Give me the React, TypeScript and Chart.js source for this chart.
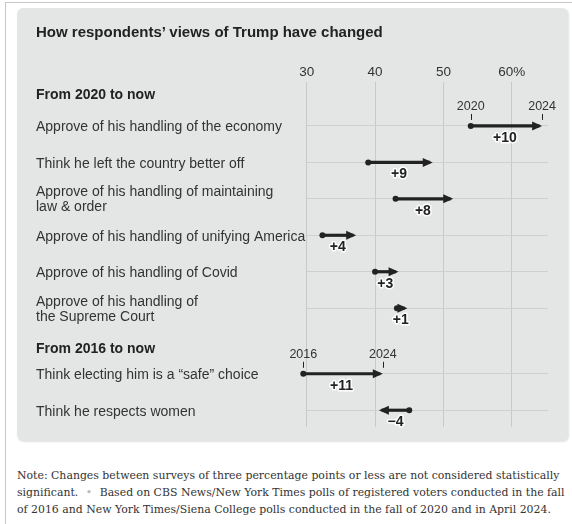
import React, { useEffect, useRef } from "react";
import { Chart, registerables } from "chart.js";

Chart.register(...registerables);

const titleText = "How respondents\u2019 views of Trump have changed";
const sectionHeadings = ["From 2020 to now", "From 2016 to now"];
const rowLabels: string[][] = [
  ["Approve of his handling of the economy"],
  ["Think he left the country better off"],
  ["Approve of his handling of maintaining", "law & order"],
  ["Approve of his handling of unifying America"],
  ["Approve of his handling of Covid"],
  ["Approve of his handling of", "the Supreme Court"],
  ["Think electing him is a \u201Csafe\u201D choice"],
  ["Think he respects women"],
];
const rowPositions = [0, 1, 2, 3, 4, 5, 6.8, 7.8];
const startValues = [54, 39, 43, 32.3, 40, 43.2, 29.5, 45];
const endValues = [64, 48, 51, 36.8, 43, 44.3, 40.7, 41];
const changeLabels = ["+10", "+9", "+8", "+4", "+3", "+1", "+11", "\u22124"];
const xTicks = [30, 40, 50, 60];
const xTickLabels = ["30", "40", "50", "60%"];
const yearMarkRows = [0, 6];
const yearStartLabels = ["2020", "2016"];
const yearEndLabels = ["2024", "2024"];
const noteLines = [
  "Note: Changes between surveys of three percentage points or less are not considered statistically",
  "Based on CBS News/New York Times polls of registered voters conducted in the fall",
  "of 2016 and New York Times/Siena College polls conducted in the fall of 2020 and in April 2024.",
];

const SANS = "'Liberation Sans', Arial, sans-serif";
const INK = "#222";

const overlayPlugin = {
  id: "overlay",
  afterDatasetsDraw(chart: any) {
    const { ctx, scales } = chart;
    const xs = scales.x;
    const ys = scales.y;
    ctx.save();
    // row labels
    ctx.fillStyle = "#333";
    ctx.font = `14px ${SANS}`;
    ctx.textAlign = "left";
    ctx.textBaseline = "middle";
    rowLabels.forEach((lines, i) => {
      const yp = ys.getPixelForValue(rowPositions[i]);
      if (lines.length === 1) {
        ctx.fillText(lines[0], 36, yp + 1.5);
      } else {
        ctx.fillText(lines[0], 36, yp - 6.5);
        ctx.fillText(lines[1], 36, yp + 8.5);
      }
    });
    // arrows
    rowPositions.forEach((r, i) => {
      const yp = ys.getPixelForValue(r);
      const p0 = xs.getPixelForValue(startValues[i]);
      const p1 = xs.getPixelForValue(endValues[i]);
      const dir = p1 >= p0 ? 1 : -1;
      const tip = p1 + dir * 3;
      ctx.fillStyle = INK;
      ctx.beginPath();
      ctx.arc(p0, yp, 3, 0, Math.PI * 2);
      ctx.fill();
      ctx.beginPath();
      ctx.moveTo(tip, yp);
      ctx.lineTo(tip - dir * 10, yp - 4.5);
      ctx.lineTo(tip - dir * 10, yp + 4.5);
      ctx.closePath();
      ctx.fill();
      // change label
      ctx.font = `bold 14px ${SANS}`;
      ctx.textAlign = "center";
      ctx.textBaseline = "middle";
      const mx = (p0 + p1) / 2;
      ctx.lineWidth = 3;
      ctx.strokeStyle = "rgba(255,255,255,0.9)";
      ctx.lineJoin = "round";
      ctx.strokeText(changeLabels[i], mx, yp + 12);
      ctx.fillStyle = INK;
      ctx.fillText(changeLabels[i], mx, yp + 12);
    });
    // year marks
    yearMarkRows.forEach((ri, k) => {
      const yp = ys.getPixelForValue(rowPositions[ri]);
      const p0 = xs.getPixelForValue(startValues[ri]);
      const p1 = xs.getPixelForValue(endValues[ri]);
      const dir = p1 >= p0 ? 1 : -1;
      const pts = [p0, p1 + dir * 3];
      const labs = [yearStartLabels[k], yearEndLabels[k]];
      ctx.strokeStyle = INK;
      ctx.lineWidth = 1;
      ctx.font = `12.5px ${SANS}`;
      ctx.fillStyle = "#333";
      ctx.textAlign = "center";
      ctx.textBaseline = "middle";
      pts.forEach((px, j) => {
        const ax = Math.round(px) + 0.5;
        ctx.beginPath();
        ctx.moveTo(ax, yp - 12);
        ctx.lineTo(ax, yp - 6);
        ctx.stroke();
        ctx.fillText(labs[j], px, yp - 19);
      });
    });
    ctx.restore();
  },
};

export default function App() {
  const ref = useRef<HTMLCanvasElement>(null);
  useEffect(() => {
    if (!ref.current) return;
    const chart = new Chart(ref.current, {
      type: "bar",
      data: {
        datasets: [
          {
            data: rowPositions.map((r, i) => ({ y: r, x: [startValues[i], endValues[i]] })) as any,
            backgroundColor: INK,
            barThickness: 2.5,
            borderSkipped: false,
            clip: false as any,
          },
        ],
      },
      options: {
        indexAxis: "y",
        animation: false,
        responsive: false,
        devicePixelRatio: 1,
        layout: { padding: { left: 306.7, right: 24, top: 62, bottom: 18 } },
        plugins: { legend: { display: false }, tooltip: { enabled: false } },
        scales: {
          x: {
            type: "linear",
            position: "top",
            min: 30,
            max: 65.3,
            border: { display: false },
            grid: { color: "#c9c9c9", lineWidth: 1, drawTicks: false },
            afterBuildTicks: (s: any) => {
              s.ticks = xTicks.map((v) => ({ value: v }));
            },
            ticks: {
              padding: 2,
              color: "#333",
              font: { family: SANS, size: 13.5 },
              callback: (v: any) => xTickLabels[xTicks.indexOf(Number(v))] ?? "",
            },
          },
          y: {
            type: "linear",
            reverse: true,
            offset: false,
            min: -1.2,
            max: 8.26,
            border: { display: false },
            grid: { color: "#cfcfcf", lineWidth: 1, drawTicks: false, offset: false },
            afterBuildTicks: (s: any) => {
              s.ticks = rowPositions.map((v) => ({ value: v }));
            },
            ticks: { display: false },
          },
        },
      },
      plugins: [overlayPlugin],
    });
    return () => chart.destroy();
  }, []);

  return (
    <div
      style={{
        position: "absolute",
        left: 0,
        top: 0,
        width: 572,
        height: 524,
        background: "#fff",
        overflow: "hidden",
      }}
    >
      <div style={{ position: "absolute", left: 5, top: 2, width: 1, height: 522, background: "#c6c6c6" }} />
      <div style={{ position: "absolute", left: 5, top: 2, width: 567, height: 1, background: "#c6c6c6" }} />
      <div
        style={{
          position: "absolute",
          left: 17,
          top: 8,
          width: 551,
          height: 433,
          background: "#e4e5e5",
          borderRadius: 6,
          boxShadow: "1px 1px 2px rgba(0,0,0,0.12)",
        }}
      />
      <canvas ref={ref} width={572} height={445} style={{ position: "absolute", left: 0, top: 0 }} />
      <div
        style={{
          position: "absolute",
          left: 36,
          top: 23,
          fontFamily: SANS,
          fontWeight: "bold",
          fontSize: 15,
          lineHeight: "18px",
          color: "#222",
          whiteSpace: "nowrap",
        }}
      >
        {titleText}
      </div>
      {sectionHeadings.map((h, i) => (
        <div
          key={h}
          style={{
            position: "absolute",
            left: 36,
            top: i === 0 ? 85 : 339,
            fontFamily: SANS,
            fontWeight: "bold",
            fontSize: 14,
            lineHeight: "18px",
            color: "#222",
            whiteSpace: "nowrap",
          }}
        >
          {h}
        </div>
      ))}
      <div
        style={{
          position: "absolute",
          left: 17,
          top: 467,
          fontFamily: "'DejaVu Serif', Georgia, serif",
          fontSize: 10.9,
          lineHeight: "17px",
          color: "#333",
          whiteSpace: "nowrap",
        }}
      >
        <div>{noteLines[0]}</div>
        <div>
          significant. <span style={{ color: "#bbb", margin: "0 4px" }}>•</span> {noteLines[1]}
        </div>
        <div>{noteLines[2]}</div>
      </div>
    </div>
  );
}
